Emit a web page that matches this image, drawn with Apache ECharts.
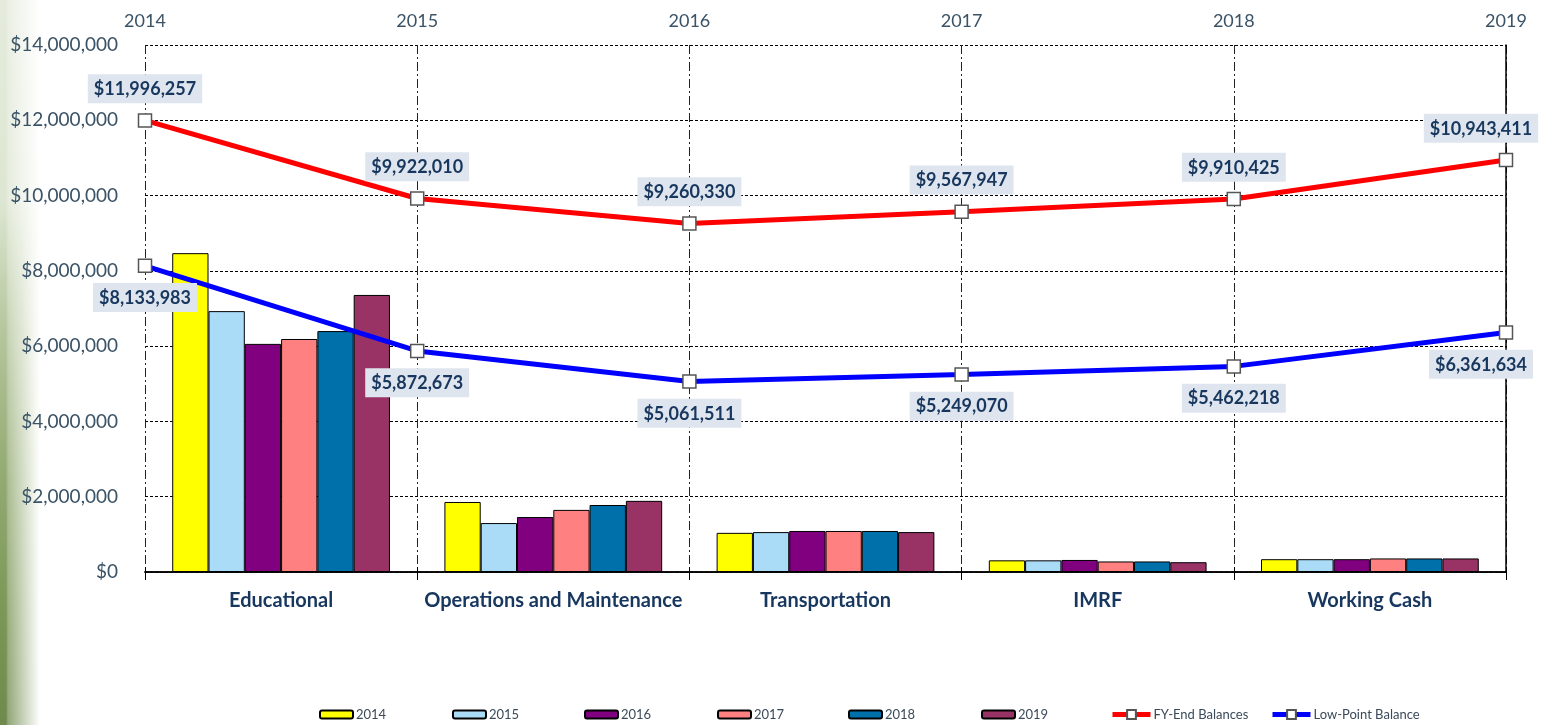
<!DOCTYPE html>
<html>
<head>
<meta charset="utf-8">
<script src="https://cdn.jsdelivr.net/npm/echarts@6/dist/echarts.min.js"></script>
<style>
  html, body { margin: 0; padding: 0; background: #fff; }
  #leaf {
    position: absolute; left: 0; top: 0; width: 44px; height: 725px;
    background:
      linear-gradient(to right, rgba(255,255,255,0) 0, rgba(255,255,255,0) 6px, rgba(255,255,255,0.25) 8px, #fff 40px),
      linear-gradient(to bottom, #e4ebdc 0%, #dde6d2 28%, #b7c79f 45%, #94ab73 65%, #7b9656 85%, #6f8a4c 100%);
  }
  #main { position: absolute; left: 0; top: 0; width: 1543px; height: 725px; }
</style>
</head>
<body>
<div id="leaf"></div>
<div id="main"></div>
<script>
const funds = ['Educational', 'Operations and Maintenance', 'Transportation', 'IMRF', 'Working Cash']
const years = ['2014', '2015', '2016', '2017', '2018', '2019']

// bar values per fund, one array per year
const bars2014 = [8470000, 1860000, 1040000, 310000, 340000]
const bars2015 = [6930000, 1300000, 1060000, 310000, 340000]
const bars2016 = [6060000, 1460000, 1090000, 320000, 340000]
const bars2017 = [6190000, 1650000, 1090000, 280000, 360000]
const bars2018 = [6400000, 1780000, 1090000, 280000, 360000]
const bars2019 = [7360000, 1890000, 1060000, 260000, 360000]

const fyEnd = [11996257, 9922010, 9260330, 9567947, 9910425, 10943411]
const lowPoint = [8133983, 5872673, 5061511, 5249070, 5462218, 6361634]

const yTicks = [0, 2000000, 4000000, 6000000, 8000000, 10000000, 12000000, 14000000]

const barColors = ['#ffff00', '#aadcf8', '#800080', '#ff8080', '#0070aa', '#993366']
const barData = [bars2014, bars2015, bars2016, bars2017, bars2018, bars2019]

const money = v => '$' + Number(v).toLocaleString('en-US')
const labelColor = '#17375e'
const axisTextColor = '#3b5366'
const font = 'Lato, "Open Sans", sans-serif'

const chart = echarts.init(document.getElementById('main'))

const barSeries = years.map((y, i) => ({
  name: y,
  type: 'bar',
  xAxisIndex: 0,
  yAxisIndex: 0,
  barGap: 0,
  barCategoryGap: '20%',
  data: barData[i],
  itemStyle: { color: barColors[i], borderColor: '#000', borderWidth: 1 },
  z: 2
}))

const valueLabel = (pos) => ({
  show: true,
  position: pos,
  distance: 10,
  formatter: p => money(p.value),
  color: labelColor,
  fontFamily: font,
  fontWeight: 'bold',
  fontSize: 18,
  backgroundColor: '#dfe5ee',
  padding: [6, 6, 5, 6]
})

const lineData = (arr) => arr.map((v, i) => i === arr.length - 1
  ? { value: v, label: { offset: [-25, 0] } }
  : v)

const lineSeries = [
  {
    name: 'FY-End Balances',
    type: 'line',
    xAxisIndex: 1,
    yAxisIndex: 0,
    data: lineData(fyEnd),
    lineStyle: { color: '#ff0000', width: 5 },
    symbol: 'rect',
    symbolSize: 13,
    itemStyle: { color: '#fff', borderColor: '#555', borderWidth: 1.5 },
    label: valueLabel('top'),
    z: 5
  },
  {
    name: 'Low-Point Balance',
    type: 'line',
    xAxisIndex: 1,
    yAxisIndex: 0,
    data: lineData(lowPoint),
    lineStyle: { color: '#0000ff', width: 5 },
    symbol: 'rect',
    symbolSize: 13,
    itemStyle: { color: '#fff', borderColor: '#555', borderWidth: 1.5 },
    label: valueLabel('bottom'),
    z: 5
  }
]

// one legend per item so each sits where it does in the picture
const legendLeft = [319, 452, 584, 717, 848, 981, 1110, 1270]
const legendNames = years.concat(['FY-End Balances', 'Low-Point Balance'])
const legends = legendNames.map((n, i) => ({
  data: [n],
  left: legendLeft[i],
  top: 708,
  itemWidth: i < 6 ? 33 : 38,
  itemHeight: i < 6 ? 8 : 11,
  itemGap: 0,
  padding: 0,
  lineStyle: { width: 5 },
  textStyle: { fontFamily: font, fontSize: 13, color: '#3b4a5a', padding: [0, 0, 0, -2] }
}))

chart.setOption({
  backgroundColor: 'transparent',
  animation: false,
  textStyle: { fontFamily: font },
  legend: legends,
  grid: { left: 145, right: 37, top: 45, bottom: 153 },
  xAxis: [
    {
      type: 'category',
      position: 'bottom',
      data: funds,
      boundaryGap: true,
      axisLine: { lineStyle: { color: '#000', width: 1.5 } },
      axisTick: { show: true, interval: 0, length: 8, lineStyle: { color: '#000' } },
      axisLabel: { interval: 0, color: labelColor, fontWeight: 'bold', fontSize: 20, margin: 19, fontFamily: font },
      splitLine: { show: true, interval: 0, lineStyle: { color: '#222', width: 1, type: [9, 3, 2, 3] } }
    },
    {
      type: 'category',
      position: 'top',
      data: years,
      boundaryGap: false,
      axisLine: { lineStyle: { color: '#000', width: 1.5 } },
      axisTick: { show: true, interval: 0, length: 5, lineStyle: { color: '#000' } },
      axisLabel: { interval: 0, color: axisTextColor, fontSize: 18, margin: 15, fontFamily: font },
      splitLine: { show: false }
    }
  ],
  yAxis: [
    {
      type: 'value',
      min: yTicks[0],
      max: yTicks[yTicks.length - 1],
      interval: yTicks[1] - yTicks[0],
      axisLine: { show: false },
      axisTick: { show: false },
      axisLabel: { formatter: v => money(v), color: axisTextColor, fontSize: 19, margin: 27, fontFamily: font },
      splitLine: { show: true, lineStyle: { color: '#000', width: 1, type: [3, 2] } }
    },
    {
      type: 'value',
      position: 'right',
      min: yTicks[0],
      max: yTicks[yTicks.length - 1],
      interval: yTicks[1] - yTicks[0],
      axisLine: { show: true, lineStyle: { color: '#000', width: 1.5 } },
      axisTick: { show: false },
      axisLabel: { show: false },
      splitLine: { show: false }
    }
  ],
  series: barSeries.concat(lineSeries)
})
</script>
</body>
</html>
